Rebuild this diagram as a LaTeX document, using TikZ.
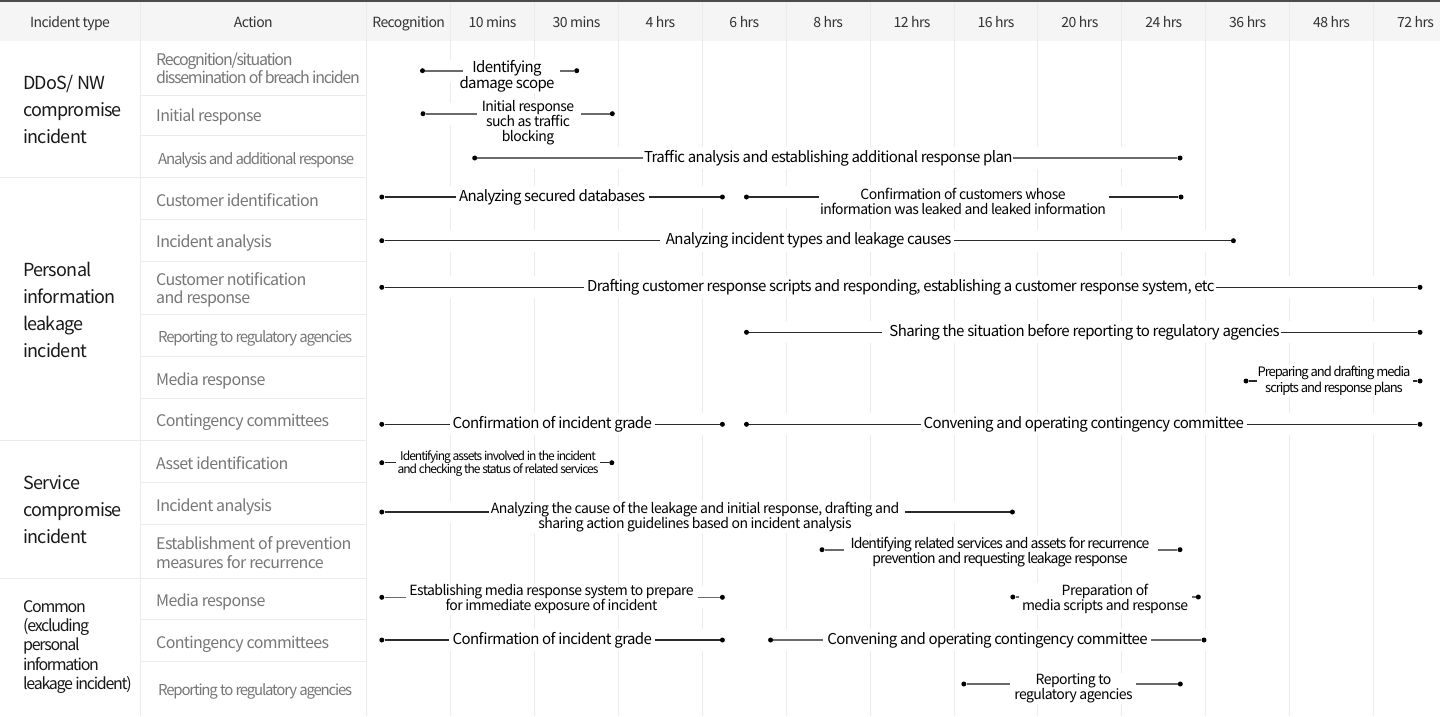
\documentclass[tikz,border=0pt]{standalone}
\usepackage{fontspec}
\setmainfont[LetterSpace=-4]{Noto Sans CJK KR}
\newfontfamily\tightf[LetterSpace=-8]{Noto Sans CJK KR}
\newfontfamily\midf[LetterSpace=-6.5]{Noto Sans CJK KR}
\usetikzlibrary{calc}
\definecolor{gridc}{HTML}{EBEBEB}
\definecolor{headbg}{HTML}{F5F5F5}
\definecolor{acttxt}{HTML}{777777}
\definecolor{toptxt}{HTML}{333333}
\definecolor{linec}{HTML}{2A2A2A}
\definecolor{softc}{HTML}{6A6A6A}
\def\lblfont{\fontsize{15}{15}\selectfont}
\newcommand\tlbar[9][tline]{%
  \fill[white] (#4-3,#3-11) rectangle (#8+3,#3+11);
  \node[tdot] (#2-a) at (#4,#3) {};
  \coordinate (#2-e) at (#5,#3);
  \node[tlabel] (#2-t) at (#6) {#9};
  \coordinate (#2-s) at (#7,#3);
  \node[tdot] (#2-b) at (#8,#3) {};
  \draw[#1] (#2-a) -- (#2-e);
  \draw[#1] (#2-s) -- (#2-b);
}
\begin{document}
\begin{tikzpicture}[x=1pt,y=-1pt,
  gline/.style={draw=gridc, line width=1pt},
  tdot/.style={circle, fill=black, inner sep=0pt, minimum size=5pt},
  tlabel/.style={fill=white, inner sep=1pt, align=center, font=\lblfont, text=black},
  tline/.style={draw=linec, line width=1.2pt},
  tsoft/.style={draw=softc, line width=1.6pt},
  hlabel/.style={font=\fontsize{14}{14}\selectfont, text=toptxt, inner sep=0pt, anchor=base},
  alabel/.style={anchor=base west, inner sep=0pt, font=\fontsize{16}{18.5}\selectfont, text=acttxt},
  amulti/.style={anchor=west, align=left, inner sep=0pt, font=\fontsize{16}{18.5}\selectfont, text=acttxt},
  atight/.style={anchor=west, align=left, inner sep=0pt, font=\fontsize{16}{18.5}\tightf, text=acttxt},
  acond/.style={anchor=base west, inner sep=0pt, font=\fontsize{15}{18}\tightf, text=acttxt},
  glabel/.style={anchor=west, align=left, inner sep=0pt, font=\fontsize{18}{27}\selectfont, text=black!90},
  gcond/.style={anchor=west, align=left, inner sep=0pt, font=\fontsize{16}{19.2}\tightf, text=black!90}]
\useasboundingbox (0,0) rectangle (1440,716);
\fill[white] (0,0) rectangle (1440,716);
\fill[headbg] (0,0) rectangle (1440,41);
% grid
\foreach \k in {1,...,12} \draw[gline] ({366.7+83.9*\k},0) -- ({366.7+83.9*\k},716);
\draw[gline] (140,0) -- (140,716);
\draw[gline] (366.7,0) -- (366.7,716);
\foreach \yy in {95,135,219,261,314,356,398,482,524,619,661} \draw[gline] (140,\yy) -- (366.7,\yy);
\foreach \yy in {177,440.5,578} \draw[gline] (0,\yy) -- (366.7,\yy);
\draw[line width=2pt, draw=black!70] (0,1) -- (1440,1);
% header
\node[hlabel] (h-type) at (70,27) {Incident type};
\node[hlabel] (h-act) at (253.3,27) {Action};
\foreach \lab [count=\i from 0] in {Recognition,10 mins,30 mins,4 hrs,6 hrs,8 hrs,12 hrs,16 hrs,20 hrs,24 hrs,36 hrs,48 hrs,72 hrs}
  \node[hlabel] (h\i) at ({366.7+83.9*(\i+0.5)},27) {\lab};
% incident types
\node[glabel] (g1) at (23,109.5) {DDoS/ NW\\compromise\\incident};
\node[glabel] (g2) at (23,310) {Personal\\information\\leakage\\incident};
\node[glabel] (g3) at (23,510) {Service\\compromise\\incident};
\node[gcond] (g4) at (23,647) {Common\\(excluding\\personal\\information\\leakage incident)};
% actions
\node[atight] (a1) at (156,68.4) {Recognition/situation\\dissemination of breach inciden};
\node[alabel] (a2) at (156,121.7) {Initial response};
\node[acond] (a3) at (158,164) {Analysis and additional response};
\node[alabel] (a4) at (156,206) {Customer identification};
\node[alabel] (a5) at (156,247.7) {Incident analysis};
\node[amulti] (a6) at (156,290) {Customer notification\\and response};
\node[acond] (a7) at (158,342.7) {Reporting to regulatory agencies};
\node[alabel] (a8) at (156,385) {Media response};
\node[alabel] (a9) at (156,426.7) {Contingency committees};
\node[alabel] (a10) at (156,469.3) {Asset identification};
\node[alabel] (a11) at (156,511) {Incident analysis};
\node[amulti] (a12) at (156,552.6) {Establishment of prevention\\measures for recurrence};
\node[alabel] (a13) at (156,606) {Media response};
\node[alabel] (a14) at (156,648.3) {Contingency committees};
\node[acond] (a15) at (158,695.7) {Reporting to regulatory agencies};
% bars
{\def\lblfont{\fontsize{15}{16}\selectfont}
\tlbar[tsoft]{b1}{70.7}{422.5}{463}{507,76}{560}{576.7}{Identifying\\damage scope}}
{\def\lblfont{\fontsize{14}{15}\selectfont}
\tlbar[tsoft]{b2}{113.7}{423}{476.7}{528,123}{581}{612.3}{Initial response\\such as traffic\\blocking}}
\tlbar[tsoft]{b3}{158}{474.7}{643.3}{828.3,158}{1013}{1180}{Traffic analysis and establishing additional response plan}
\tlbar{b4}{197}{381.8}{455.7}{552,197}{649}{722.4}{Analyzing secured databases}
{\def\lblfont{\fontsize{14}{15}\selectfont}
\tlbar{b5}{197}{746.5}{819}{963,201.8}{1109}{1181}{Confirmation of customers whose\\information was leaked and leaked information}}
\tlbar{b6}{240.7}{381.8}{660.4}{808.7,240.7}{954}{1233.4}{Analyzing incident types and leakage causes}
\tlbar{b7}{287.3}{381.8}{583.9}{900.8,287.3}{1215.5}{1420}{Drafting customer response scripts and responding, establishing a customer response system, etc}
\tlbar{b8}{332.3}{746.5}{882.4}{1084.5,332.3}{1281}{1420}{Sharing the situation before reporting to regulatory agencies}
{\def\lblfont{\fontsize{13}{16}\tightf}
\tlbar{b9}{381}{1246}{1257}{1334,380.5}{1413}{1420}{Preparing and drafting media\\scripts and response plans}}
\tlbar{b10}{424.3}{381.8}{450}{552.3,424.3}{654.7}{722.4}{Confirmation of incident grade}
\tlbar{b11}{424.3}{746.5}{920.6}{1083.8,424.3}{1246.6}{1420}{Convening and operating contingency committee}
{\def\lblfont{\fontsize{12}{13}\tightf}
\tlbar{b12}{462.7}{381.8}{395.6}{498,464}{600}{611.8}{Identifying assets involved in the incident\\and checking the status of related services}}
{\def\lblfont{\fontsize{14}{15}\selectfont}
\tlbar{b13}{512}{381.8}{489}{695,517}{905}{1012.4}{Analyzing the cause of the leakage and initial response, drafting and\\sharing action guidelines based on incident analysis}}
{\def\lblfont{\fontsize{14}{15}\midf}
\tlbar[tsoft]{b14}{549.7}{822}{844}{1000,552.2}{1157.6}{1180}{Identifying related services and assets for recurrence\\prevention and requesting leakage response}}
{\def\lblfont{\fontsize{14}{15}\selectfont}
\tlbar[tsoft]{b15}{597.3}{381.8}{406.3}{551.5,599.2}{698.3}{722.4}{Establishing media response system to prepare\\for immediate exposure of incident}
\tlbar[tsoft]{b16}{597}{1012.8}{1019}{1105,599}{1192.4}{1198.3}{Preparation of\\media scripts and response}}
\tlbar{b17}{640}{381.8}{449}{552.3,640}{654.7}{722.4}{Confirmation of incident grade}
\tlbar[tsoft]{b18}{640}{770.6}{823}{987.5,640}{1150.7}{1204}{Convening and operating contingency committee}
{\def\lblfont{\fontsize{14}{15}\selectfont}
\tlbar[tsoft]{b19}{684}{963.8}{1009.7}{1073.5,688.2}{1135.5}{1180.3}{Reporting to\\regulatory agencies}}
\end{tikzpicture}
\end{document}
